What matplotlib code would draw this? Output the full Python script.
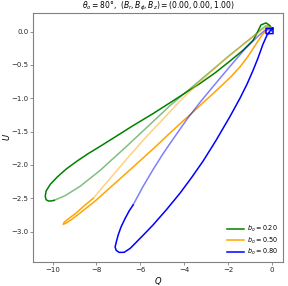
import matplotlib
matplotlib.use('Agg')
import matplotlib.pyplot as plt

# Q, U traces; "a" = solid part, "b" = faded part
q_020a = [0.01, -0.08, -0.26, -0.49, -0.67, -0.85, -1.31, -1.90, -2.59, -3.24, -3.95, -4.61, -5.42, -6.33, -7.15, -7.83,
          -8.38, -8.88, -9.38, -9.79, -10.11, -10.30, -10.34, -10.30, -10.20, -10.07, -9.93]
u_020a = [0.01, 0.09, 0.13, 0.10, -0.02, -0.13, -0.28, -0.44, -0.62, -0.77, -0.92, -1.06, -1.23, -1.41, -1.58, -1.72,
          -1.83, -1.94, -2.06, -2.18, -2.29, -2.39, -2.47, -2.52, -2.54, -2.54, -2.53]
q_020b = [-9.93, -9.43, -8.75, -7.83, -6.56, -5.55, -4.61, -3.27, -1.90, -0.99, -0.53, -0.26, -0.03]
u_020b = [-2.53, -2.46, -2.32, -2.08, -1.70, -1.39, -1.10, -0.73, -0.35, -0.11, 0.02, 0.09, 0.07]

q_050a = [-8.15, -8.52, -8.93, -9.29, -9.48, -9.52, -9.38, -9.11, -8.75, -8.06, -7.38, -6.46, -5.42, -4.64, -4.18, -3.41,
          -2.68, -1.90, -1.45, -1.08, -0.72, -0.44, -0.21, -0.03]
u_050a = [-2.50, -2.60, -2.72, -2.81, -2.86, -2.89, -2.87, -2.81, -2.72, -2.54, -2.34, -2.07, -1.76, -1.52, -1.38, -1.15,
          -0.93, -0.69, -0.53, -0.37, -0.19, -0.05, 0.03, 0.06]
q_050b = [-8.15, -7.61, -7.01, -6.46, -5.87, -5.42, -4.78, -4.19, -3.27, -2.22, -1.22, -0.62, -0.26, -0.03]
u_050b = [-2.50, -2.29, -2.06, -1.85, -1.63, -1.47, -1.25, -1.04, -0.75, -0.44, -0.17, -0.02, 0.07, 0.07]

q_080a = [-6.33, -6.51, -6.69, -6.88, -7.01, -7.10, -7.15, -7.10, -6.97, -6.74, -6.46, -6.19, -5.83, -5.42, -4.78, -4.18,
          -3.64, -3.13, -2.54, -1.90, -1.45, -1.13, -0.85, -0.63, -0.40, -0.21, -0.03, 0.06, -0.26, -0.26, 0.06, 0.06]
u_080a = [-2.60, -2.69, -2.80, -2.93, -3.05, -3.16, -3.23, -3.28, -3.31, -3.31, -3.25, -3.16, -3.04, -2.90, -2.66, -2.42,
          -2.18, -1.94, -1.63, -1.27, -1.00, -0.79, -0.58, -0.40, -0.19, -0.05, 0.03, 0.05, 0.05, -0.03, -0.03, 0.05]
q_080b = [-6.33, -5.87, -5.42, -4.96, -4.50, -3.86, -3.27, -2.72, -1.90, -1.22, -0.63, -0.31, -0.08]
u_080b = [-2.60, -2.32, -2.07, -1.83, -1.61, -1.31, -1.06, -0.84, -0.52, -0.26, -0.07, 0.02, 0.03]

b_o = [0.20, 0.50, 0.80]
colors = ['green', 'orange', 'blue']
solid = [(q_020a, u_020a), (q_050a, u_050a), (q_080a, u_080a)]
faded = [(q_020b, u_020b), (q_050b, u_050b), (q_080b, u_080b)]

plt.rcParams['font.size'] = 5
fig = plt.figure(figsize=(2.88, 2.86), dpi=100)
ax = fig.add_axes([0.116, 0.085, 0.867, 0.871])

for b, c, (qa, ua), (qb, ub) in zip(b_o, colors, solid, faded):
    ax.plot(qb, ub, color=c, lw=1.1, alpha=0.5, solid_joinstyle='round')
    ax.plot(qa, ua, color=c, lw=1.1, label=r'$b_o = %.2f$' % b, solid_joinstyle='round')

ax.set_xlim(-10.88, 0.52)
ax.set_ylim(-3.45, 0.285)
ax.set_xticks([-10, -8, -6, -4, -2, 0])
ax.set_yticks([-3.0, -2.5, -2.0, -1.5, -1.0, -0.5, 0.0])
ax.set_xlabel(r'$Q$', fontsize=6, labelpad=1.5)
ax.set_ylabel(r'$U$', fontsize=6)
ax.yaxis.set_label_coords(-0.085, 0.5)
ax.set_title(r'$\theta_o = 80°$,  $(B_r, B_\phi, B_z) = (0.00, 0.00, 1.00)$', fontsize=5.5, pad=1.5)
for s in ax.spines.values():
    s.set_color('0.5')
ax.tick_params(length=2.5, width=0.6, pad=1.2, colors='0.5', labelcolor='0.15')
ax.legend(loc='lower right', frameon=False, fontsize=4.7, handlelength=2.6, handletextpad=0.5,
          labelspacing=0.2, borderaxespad=0.3)

fig.savefig('out.png', dpi=100)
